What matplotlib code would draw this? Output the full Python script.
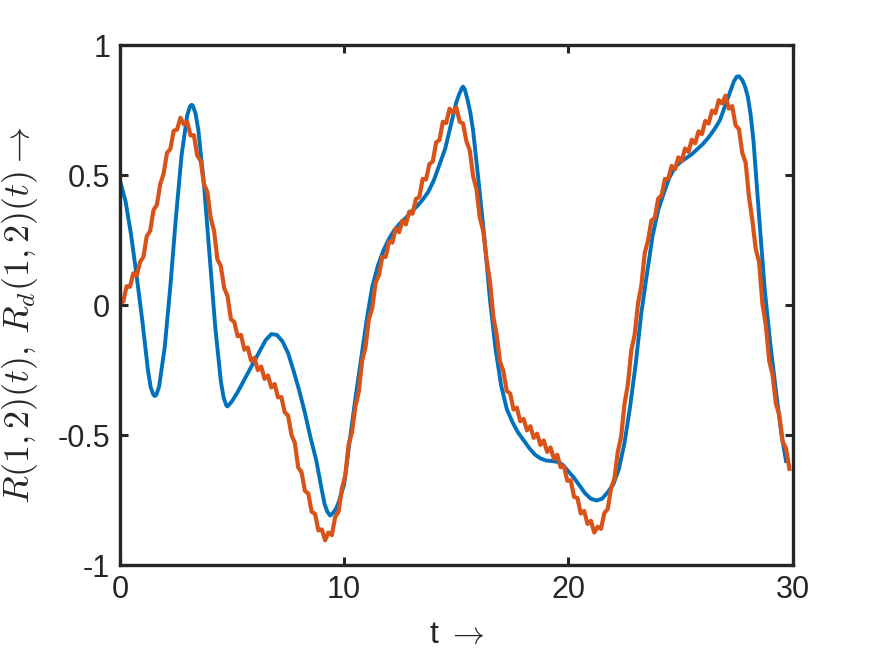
import numpy as np
import matplotlib
matplotlib.use("Agg")
import matplotlib.pyplot as plt

# ---- data ----
blue_t = [0.0, 0.25, 0.5, 0.75, 1.0, 1.25, 1.375, 1.5, 1.56, 1.625, 1.75, 2.0, 2.25, 2.5, 2.75,
          3.0, 3.125, 3.2, 3.25, 3.375, 3.5, 3.75,
          4.0, 4.25, 4.5, 4.625, 4.75, 4.8, 4.875, 5.0, 5.25, 5.5, 5.75, 6.0, 6.25, 6.5, 6.75, 7.0,
          7.25, 7.5, 7.75, 8.0, 8.25, 8.5, 8.75, 9.0, 9.125, 9.25, 9.375, 9.5, 9.625, 9.75, 10.0,
          10.25, 10.5, 10.75, 11.0, 11.25, 11.5,
          11.75, 12.0, 12.25, 12.5, 12.75, 13.0, 13.25, 13.5, 13.75, 14.0, 14.25, 14.5, 14.75, 15.0,
          15.125, 15.25, 15.3, 15.375, 15.5, 15.625, 15.75, 16.0, 16.25, 16.5, 16.75, 17.0, 17.25,
          17.5, 17.75, 18.0, 18.25, 18.5,
          18.75, 19.0, 19.25, 19.5, 19.75, 20.0, 20.25, 20.5, 20.75, 21.0, 21.25, 21.5, 21.75, 22.0,
          22.25, 22.5, 22.75, 23.0, 23.25, 23.5, 23.75, 24.0, 24.25, 24.5, 24.75, 25.0, 25.25, 25.5,
          25.75, 26.0, 26.25, 26.5, 26.75, 27.0, 27.25, 27.375, 27.5, 27.6, 27.75, 27.875, 28.0,
          28.125, 28.25, 28.5, 28.75, 29.0, 29.25, 29.5, 29.7]
blue_y = [0.48, 0.40, 0.27, 0.11, -0.06, -0.25, -0.317, -0.346, -0.35, -0.346, -0.313, -0.162,
          0.072, 0.338, 0.575, 0.729, 0.764, 0.77, 0.767, 0.736, 0.672, 0.463, 0.19, -0.083,
          -0.292, -0.356, -0.387, -0.39, -0.383, -0.37, -0.335, -0.295, -0.255, -0.215,
          -0.175, -0.135, -0.112, -0.115, -0.14, -0.185, -0.255, -0.33, -0.415, -0.51, -0.595,
          -0.71, -0.765, -0.795, -0.81, -0.80, -0.785, -0.76, -0.69, -0.52, -0.36, -0.21, -0.06,
          0.07, 0.15, 0.21, 0.255, 0.29, 0.315, 0.335, 0.36, 0.38, 0.405, 0.435, 0.48, 0.54, 0.60,
          0.69, 0.78, 0.81, 0.835, 0.84, 0.83, 0.79, 0.74, 0.67, 0.47, 0.26, 0.02, -0.17, -0.31,
          -0.40, -0.45, -0.49, -0.52, -0.55, -0.575, -0.59, -0.598, -0.60, -0.603, -0.615, -0.64,
          -0.665, -0.695, -0.725, -0.745, -0.752, -0.745, -0.72, -0.69, -0.63, -0.53, -0.39,
          -0.225, -0.03, 0.12, 0.265, 0.365, 0.43, 0.49, 0.53, 0.55, 0.565, 0.58, 0.60, 0.62,
          0.645, 0.675, 0.71, 0.77, 0.83, 0.86, 0.878, 0.88, 0.865, 0.84, 0.80, 0.73, 0.63, 0.34,
          0.06, -0.15, -0.33, -0.50, -0.60]

orange_dt = 0.15
orange_y = [0.005, 0.013, 0.072, 0.070, 0.122, 0.113, 0.165, 0.185, 0.265, 0.285,
            0.365, 0.385, 0.465, 0.505, 0.585, 0.600, 0.670, 0.675, 0.720, 0.695,
            0.705, 0.652, 0.653, 0.575, 0.555, 0.465, 0.435, 0.335, 0.285, 0.175,
            0.150, 0.065, 0.035, -0.055, -0.065, -0.120, -0.115, -0.172, -0.163, -0.214,
            -0.203, -0.250, -0.237, -0.284, -0.271, -0.317, -0.304, -0.355, -0.354, -0.413,
            -0.425, -0.499, -0.530, -0.625, -0.643, -0.715, -0.725, -0.795, -0.803, -0.867,
            -0.863, -0.905, -0.875, -0.885, -0.815, -0.795, -0.705, -0.655, -0.535, -0.490,
            -0.390, -0.335, -0.215, -0.163, -0.055, -0.012, 0.085, 0.115, 0.185, 0.185,
            0.245, 0.240, 0.295, 0.280, 0.325, 0.310, 0.359, 0.351, 0.408, 0.415,
            0.485, 0.483, 0.542, 0.552, 0.625, 0.635, 0.705, 0.700, 0.755, 0.740,
            0.760, 0.705, 0.698, 0.630, 0.595, 0.495, 0.445, 0.335, 0.285, 0.175,
            0.091, -0.045, -0.115, -0.218, -0.255, -0.331, -0.340, -0.402, -0.395, -0.447,
            -0.438, -0.482, -0.466, -0.511, -0.495, -0.538, -0.521, -0.565, -0.548, -0.592,
            -0.576, -0.624, -0.620, -0.676, -0.674, -0.738, -0.742, -0.802, -0.792, -0.842,
            -0.830, -0.875, -0.853, -0.861, -0.800, -0.785, -0.703, -0.668, -0.565, -0.505,
            -0.380, -0.305, -0.175, -0.115, 0.005, 0.075, 0.200, 0.250, 0.325, 0.335,
            0.409, 0.421, 0.485, 0.485, 0.535, 0.522, 0.568, 0.554, 0.602, 0.589,
            0.636, 0.622, 0.668, 0.657, 0.708, 0.698, 0.748, 0.738, 0.788, 0.775,
            0.805, 0.755, 0.765, 0.691, 0.677, 0.585, 0.548, 0.415, 0.325, 0.215,
            0.165, 0.003, -0.077, -0.215, -0.269, -0.379, -0.423, -0.525, -0.551, -0.630]
orange_t = np.arange(len(orange_y)) * orange_dt

x_ticks = [0, 10, 20, 30]
y_ticks = [-1, -0.5, 0, 0.5, 1]
y_tick_labels = ["-1", "-0.5", "0", "0.5", "1"]

# ---- figure ----
plt.rcParams['font.family'] = ['Liberation Sans', 'DejaVu Sans']
plt.rcParams['mathtext.fontset'] = 'cm'

fig = plt.figure(figsize=(8.75, 6.57), dpi=100)
ax = fig.add_axes([0.137, 0.140, 0.769, 0.7915])

ax.plot(blue_t, blue_y, color='#0072BD', lw=2.8, solid_joinstyle='round')
ax.plot(orange_t, orange_y, color='#D95319', lw=3.0, solid_joinstyle='round')

ax.set_xlim(0, 30)
ax.set_ylim(-1, 1)
ax.set_xticks(x_ticks)
ax.set_yticks(y_ticks)
ax.set_yticklabels(y_tick_labels)

ax.tick_params(direction='in', length=6, width=2.2, top=True, right=True,
               labelsize=22, colors='#262626', pad=7)
for s in ax.spines.values():
    s.set_linewidth(2.4)
    s.set_color('#262626')

ax.set_xlabel('t $\\rightarrow$', fontsize=23, color='#262626')
ax.xaxis.set_label_coords(0.5, -0.105)
ax.set_ylabel('$R(1,2)(t),\\, R_d(1,2)(t) \\rightarrow$', fontsize=26, color='#262626')
ax.yaxis.set_label_coords(-0.118, 0.48)

fig.savefig('out.png', dpi=100)
